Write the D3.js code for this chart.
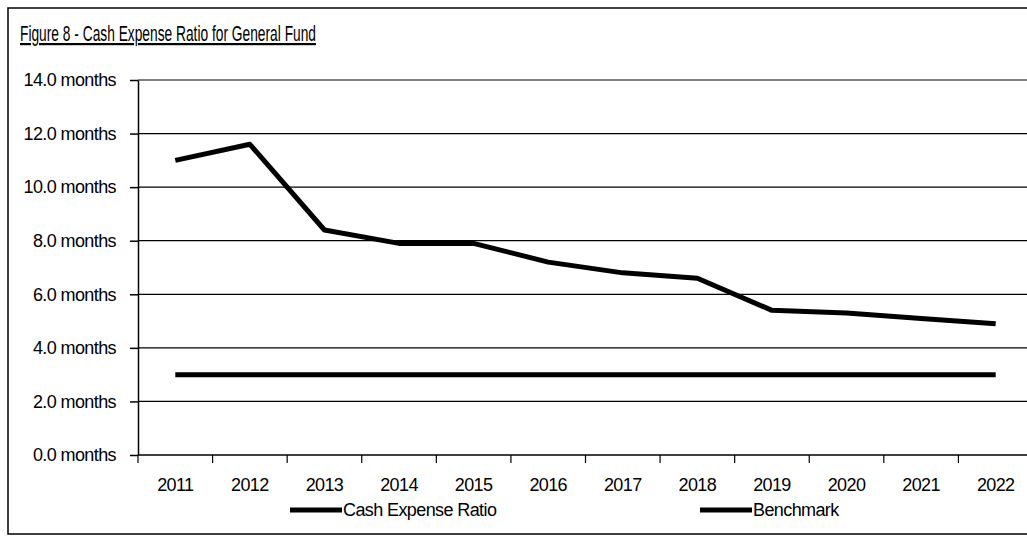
<!DOCTYPE html>
<html><head><meta charset="utf-8">
<script src="https://cdn.jsdelivr.net/npm/d3@7"></script>
<style>body{margin:0;background:#fff}text{font-family:"Liberation Sans Narrow","Arial Narrow","Liberation Sans",sans-serif;fill:#000}</style>
</head><body>
<script>
const years = ["2011","2012","2013","2014","2015","2016","2017","2018","2019","2020","2021","2022"];
const cashRatio = [11.0,11.6,8.4,7.9,7.9,7.2,6.8,6.6,5.4,5.3,5.1,4.9];
const benchmark = [3,3,3,3,3,3,3,3,3,3,3,3];
const yTicks = [0,2,4,6,8,10,12,14];

const W = 1027, H = 538;
const svg = d3.select("body").append("svg").attr("width", W).attr("height", H);

// outer frame
svg.append("rect").attr("x",8).attr("y",8).attr("width",W+10).attr("height",H-12)
  .attr("fill","none").attr("stroke","#000").attr("stroke-width",1.5);

svg.append("text").attr("x",20).attr("y",41).attr("font-size",22)
  .attr("textLength",296).attr("lengthAdjust","spacingAndGlyphs")
  .attr("text-decoration","underline").text("Figure 8 - Cash Expense Ratio for General Fund");

const x = d3.scaleBand().domain(years).range([138, 1033]);
const y = d3.scaleLinear().domain([0,14]).range([455, 80]);

// gridlines
svg.append("g").selectAll("line").data(yTicks.slice(1)).join("line")
  .attr("x1",138).attr("x2",W).attr("y1",d=>y(d)).attr("y2",d=>y(d))
  .attr("stroke","#000").attr("stroke-width",1.2);

const yAxis = svg.append("g").attr("transform","translate(138,0)")
  .call(d3.axisLeft(y).tickValues(yTicks).tickSize(8).tickSizeOuter(0).tickFormat(d=>d.toFixed(1)+" months"));
const xAxis = svg.append("g").attr("transform","translate(0,455)")
  .call(d3.axisBottom(x).tickSize(0).tickPadding(23));
// ticks between categories
svg.append("g").selectAll("line").data(years).join("line")
  .attr("x1",d=>x(d)).attr("x2",d=>x(d)).attr("y1",455).attr("y2",463)
  .attr("stroke","#000").attr("stroke-width",1.2);
[yAxis,xAxis].forEach(a=>{
  a.selectAll("path,line").attr("stroke","#000").attr("stroke-width",1.5);
  a.selectAll("text").attr("font-size",18).attr("fill","#000").attr("letter-spacing",-0.6);
});
xAxis.select(".domain").attr("d","M138,0H"+W);
yAxis.selectAll(".tick text").attr("x",-22);

const line = d3.line().x((d,i)=>x(years[i])+x.bandwidth()/2).y(d=>y(d));
[cashRatio, benchmark].forEach(s=>{
  svg.append("path").attr("d",line(s)).attr("fill","none")
    .attr("stroke","#000").attr("stroke-width",5).attr("stroke-linejoin","round");
});

// legend
const legend = [["Cash Expense Ratio",290],["Benchmark",700]];
legend.forEach(([t,lx])=>{
  svg.append("line").attr("x1",lx).attr("x2",lx+52).attr("y1",510).attr("y2",510)
    .attr("stroke","#000").attr("stroke-width",5);
  svg.append("text").attr("x",lx+53).attr("y",516).attr("font-size",18)
    .attr("letter-spacing",-0.6).text(t);
});
</script>
</body></html>
